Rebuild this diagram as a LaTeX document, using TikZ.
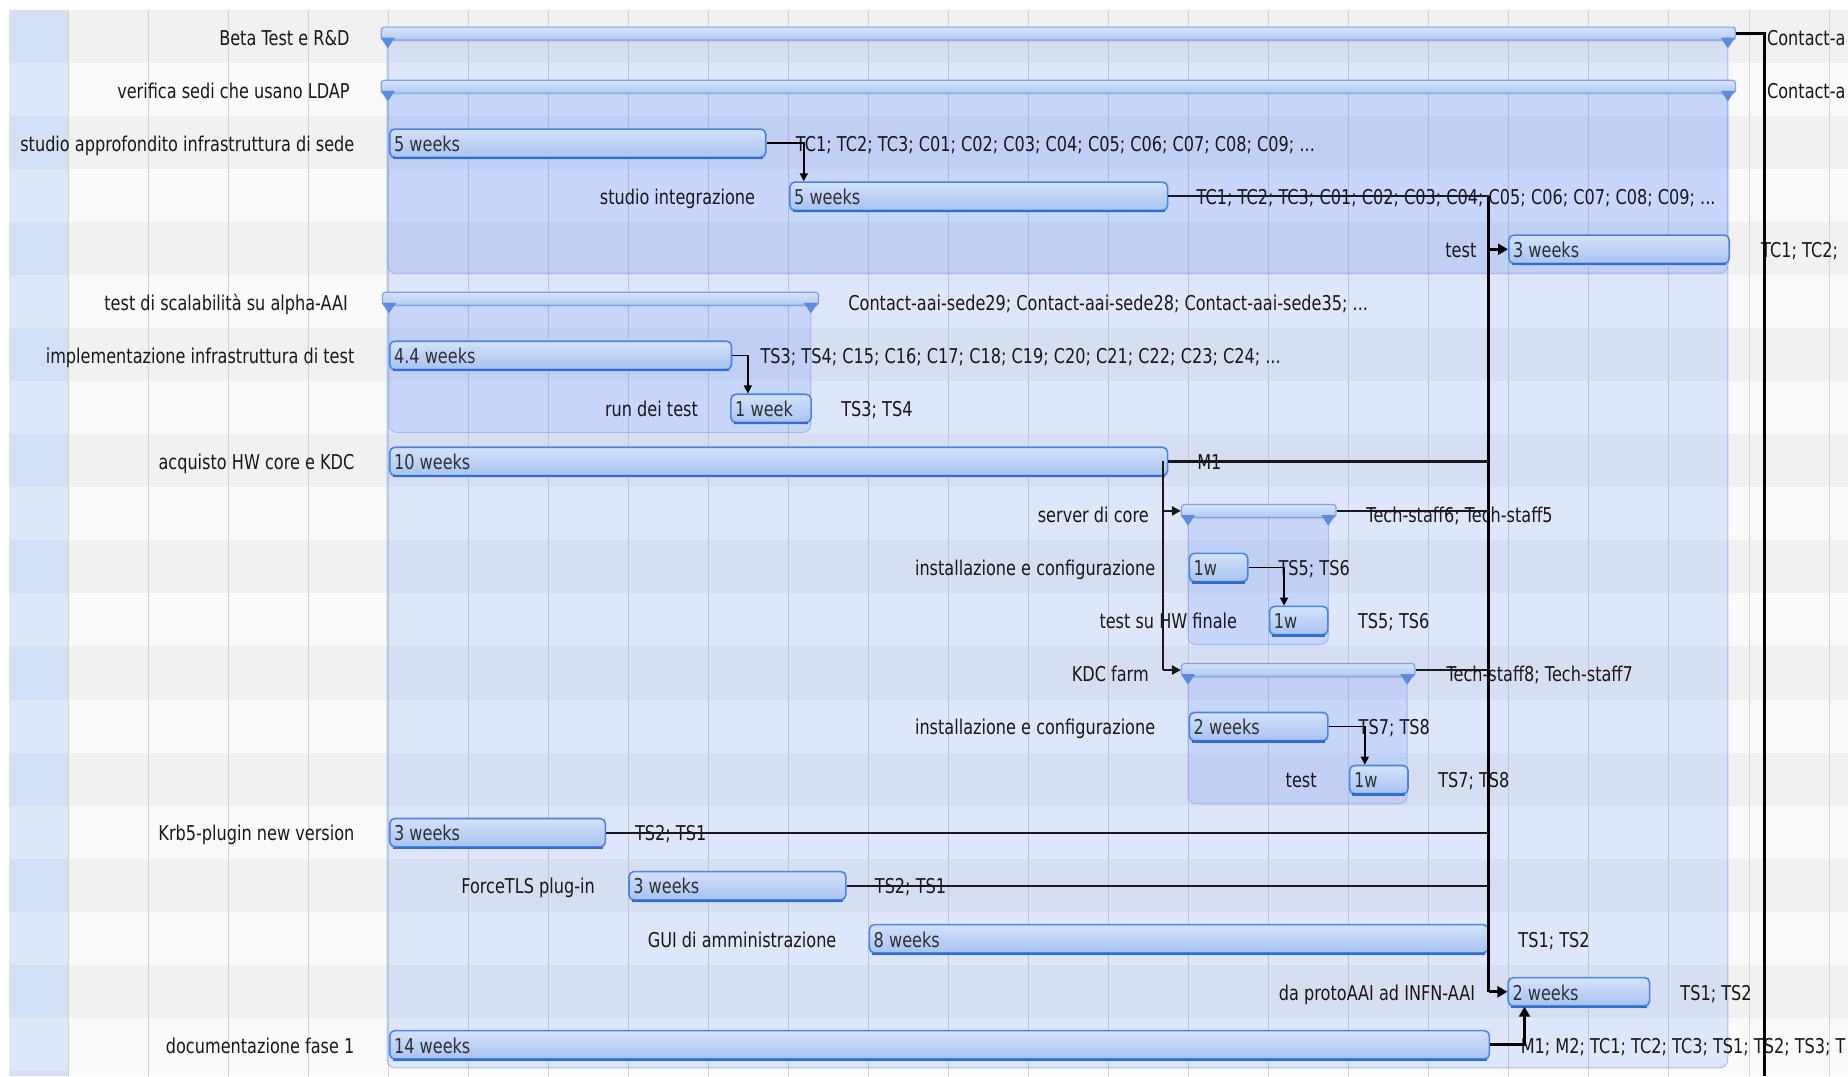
\documentclass[tikz,border=0pt]{standalone}
\usepackage{fontspec}
\setmainfont{DejaVu Sans}[FakeStretch=0.79]
\usetikzlibrary{arrows.meta,shadows,calc}
\definecolor{stripeA}{HTML}{F1F1F1}
\definecolor{stripeB}{HTML}{FAFAFA}
\definecolor{leftA}{HTML}{D3E0F5}
\definecolor{leftB}{HTML}{DDE8FA}
\definecolor{gridc}{HTML}{D2D2D2}
\definecolor{regfill}{RGB}{63,117,250}
\definecolor{regedge}{HTML}{7FA6EC}
\definecolor{bartop}{HTML}{D4E2FB}
\definecolor{barbot}{HTML}{A8C2F1}
\definecolor{baredge}{HTML}{4A86E0}
\definecolor{barlow}{HTML}{2F6DD6}
\definecolor{gtop}{HTML}{D6E3FA}
\definecolor{gbot}{HTML}{B2C9F3}
\definecolor{gedge}{HTML}{7DA3E6}
\definecolor{gtri}{HTML}{5A8DE2}
\definecolor{txt}{HTML}{181818}
\definecolor{wtxt}{HTML}{303030}
\newcommand\pxu{0.5893pt}
\newcommand\gfont{\fontsize{10.2}{12}\selectfont}

\tikzset{
  lbl/.style={anchor=base east, inner sep=0pt, text=txt, font=\gfont},
  rlbl/.style={anchor=base west, inner sep=0pt, text=txt, font=\gfont},
  wlbl/.style={anchor=base west, inner sep=0pt, text=wtxt, font=\gfont},
  taskbar/.style={rectangle, rounded corners=2.5pt, draw=baredge, line width=0.8pt,
    top color=bartop, bottom color=barbot, inner sep=0pt, minimum height=24*\pxu,
    drop shadow={shadow xshift=0pt, shadow yshift=-1.2pt, opacity=0.15}},
  barlowedge/.style={draw=barlow, line width=1.1pt},
  groupbar/.style={rectangle, rounded corners=1.5pt, draw=gedge, line width=0.6pt,
    top color=gtop, bottom color=gbot, inner sep=0pt, minimum height=11*\pxu,
    drop shadow={shadow xshift=0pt, shadow yshift=-1pt, opacity=0.12}},
  grouptri/.style={fill=gtri},
  region/.style={fill=regfill, fill opacity=0.15, draw=regedge, draw opacity=0.6,
    line width=0.5pt, rounded corners=4pt},
  subregion/.style={region, fill opacity=0.14},
  gridline/.style={draw=gridc, line width=0.5pt},
  thindep/.style={draw=black, line width=0.75pt, -{Triangle[length=4pt,width=4pt]}},
  meddep/.style={draw=black!90, line width=1.1pt},
  meddeparr/.style={meddep, -{Triangle[length=4.5pt,width=4.5pt]}},
  thinline/.style={draw=black!90, line width=0.9pt},
  trunk/.style={draw=black, line width=1.3pt},
  crit/.style={draw=black, line width=1.6pt},
  critarr/.style={crit, -{Triangle[length=5pt,width=5.5pt]}},
}

\newcommand\taskrow[5]{% name, x1, x2, row, text
  \node[taskbar, minimum width={(#3-#2)*\pxu}, anchor=west] (#1) at (#2,{31+45*#4+0.5}) {};
  \draw[barlowedge] ([xshift=1.8pt]#1.south west) -- ([xshift=-1.8pt]#1.south east);
  \node[wlbl] (#1w) at ({#2+4},{31+45*#4+7.5}) {#5};
}
\newcommand\grouprow[4]{% name, x1, x2, row
  \node[groupbar, minimum width={(#3-#2+12)*\pxu}, anchor=west] (#1) at ({#2-6},{31+45*#4-2.5}) {};
  \fill[grouptri] ({#2-6},{31+45*#4+1}) -- ({#2+6},{31+45*#4+1}) -- (#2,{31+45*#4+10}) -- cycle;
  \fill[grouptri] ({#3-6},{31+45*#4+1}) -- ({#3+6},{31+45*#4+1}) -- (#3,{31+45*#4+10}) -- cycle;
}
\newcommand\leftlabel[4]{% name, xend, row, text
  \node[lbl] (#1) at (#2,{31+45*#3+7.5}) {#4};
}
\newcommand\rightlabel[4]{% name, xstart, row, text
  \node[rlbl] (#1) at (#2,{31+45*#3+7.5}) {#4};
}

\begin{document}
\begin{tikzpicture}[x=0.5893pt, y=-0.5893pt]
\useasboundingbox (0,0) rectangle (1568,913);
\clip (0,0) rectangle (1568,913);
\fill[white] (0,0) rectangle (1568,913);

% stripes and left column
\foreach \k in {0,...,19}{
  \pgfmathtruncatemacro\odd{mod(\k,2)}
  \ifnum\odd=0
    \fill[stripeA] (58.5,{8.5+45*\k}) rectangle (1568,{53.5+45*\k});
    \fill[leftA] (7.5,{8.5+45*\k}) rectangle (57.5,{53.5+45*\k});
  \else
    \fill[stripeB] (58.5,{8.5+45*\k}) rectangle (1568,{53.5+45*\k});
    \fill[leftB] (7.5,{8.5+45*\k}) rectangle (57.5,{53.5+45*\k});
  \fi
}
\fill[stripeB] (58.5,908.5) rectangle (1568,913);
\fill[leftA] (7.5,908.5) rectangle (57.5,913);

% grid
\foreach \j in {0,...,22}{
  \draw[gridline] ({58.5+67.88*\j},8.5) -- ({58.5+67.88*\j},913);
}

% group regions
\draw[region] (328.5,31) rectangle (1466,906);
\draw[subregion] (329,76) rectangle (1466,232);
\draw[subregion] (330,256) rectangle (688,367);
\draw[subregion] (1008,436) rectangle (1127,547);
\draw[subregion] (1008,571) rectangle (1194,682);

% left labels
\leftlabel{L0}{297}{0}{Beta Test e R\&D}
\leftlabel{L1}{297}{1}{verifica sedi che usano LDAP}
\leftlabel{L2}{301}{2}{studio approfondito infrastruttura di sede}
\leftlabel{L3}{641}{3}{studio integrazione}
\leftlabel{L4}{1253}{4}{test}
\leftlabel{L5}{295.5}{5}{test di scalabilità su alpha-AAI}
\leftlabel{L6}{301}{6}{implementazione infrastruttura di test}
\leftlabel{L7}{592.5}{7}{run dei test}
\leftlabel{L8}{301}{8}{acquisto HW core e KDC}
\leftlabel{L9}{975}{9}{server di core}
\leftlabel{L10}{980.5}{10}{installazione e configurazione}
\leftlabel{L11}{1050}{11}{test su HW finale}
\leftlabel{L12}{975}{12}{KDC farm}
\leftlabel{L13}{980.5}{13}{installazione e configurazione}
\leftlabel{L14}{1117.5}{14}{test}
\leftlabel{L15}{301}{15}{Krb5-plugin new version}
\leftlabel{L16}{505}{16}{ForceTLS plug-in}
\leftlabel{L17}{710}{17}{GUI di amministrazione}
\leftlabel{L18}{1252}{18}{da protoAAI ad INFN-AAI}
\leftlabel{L19}{301}{19}{documentazione fase 1}

% right labels
\rightlabel{R0}{1499}{0}{Contact-a}
\rightlabel{R1}{1499}{1}{Contact-a}
\rightlabel{R2}{675}{2}{TC1; TC2; TC3; C01; C02; C03; C04; C05; C06; C07; C08; C09; ...}
\rightlabel{R3}{1015}{3}{TC1; TC2; TC3; C01; C02; C03; C04; C05; C06; C07; C08; C09; ...}
\rightlabel{R4}{1494}{4}{TC1; TC2;}
\rightlabel{R5}{719.5}{5}{Contact-aai-sede29; Contact-aai-sede28; Contact-aai-sede35; ...}
\rightlabel{R6}{645}{6}{TS3; TS4; C15; C16; C17; C18; C19; C20; C21; C22; C23; C24; ...}
\rightlabel{R7}{713.5}{7}{TS3; TS4}
\rightlabel{R8}{1015.5}{8}{M1}
\rightlabel{R9}{1159}{9}{Tech-staff6; Tech-staff5}
\rightlabel{R10}{1084.5}{10}{TS5; TS6}
\rightlabel{R11}{1152}{11}{TS5; TS6}
\rightlabel{R12}{1227}{12}{Tech-staff8; Tech-staff7}
\rightlabel{R13}{1152.5}{13}{TS7; TS8}
\rightlabel{R14}{1220}{14}{TS7; TS8}
\rightlabel{R15}{538.5}{15}{TS2; TS1}
\rightlabel{R16}{742}{16}{TS2; TS1}
\rightlabel{R17}{1288}{17}{TS1; TS2}
\rightlabel{R18}{1425.5}{18}{TS1; TS2}
\rightlabel{R19}{1290}{19}{M1; M2; TC1; TC2; TC3; TS1; TS2; TS3; T}

% group bars
\grouprow{g0}{329}{1466}{0}
\grouprow{g1}{329}{1466}{1}
\grouprow{g5}{330}{688}{5}
\grouprow{g9}{1008}{1127}{9}
\grouprow{g12}{1008}{1194}{12}

% task bars
\taskrow{t2}{330}{649}{2}{5 weeks}
\taskrow{t3}{669.5}{990}{3}{5 weeks}
\taskrow{t4}{1279.5}{1466.5}{4}{3 weeks}
\taskrow{t6}{330}{620}{6}{4.4 weeks}
\taskrow{t7}{619.5}{687.5}{7}{1 week}
\taskrow{t8}{330}{990}{8}{10 weeks}
\taskrow{t10}{1008.5}{1058}{10}{1w}
\taskrow{t11}{1076.5}{1126}{11}{1w}
\taskrow{t13}{1008.5}{1126}{13}{2 weeks}
\taskrow{t14}{1144.5}{1194}{14}{1w}
\taskrow{t15}{330}{513}{15}{3 weeks}
\taskrow{t16}{533}{717}{16}{3 weeks}
\taskrow{t17}{737}{1262}{17}{8 weeks}
\taskrow{t18}{1279}{1399}{18}{2 weeks}
\taskrow{t19}{330}{1263}{19}{14 weeks}

% connectors
\coordinate (vb) at (1497,913);
\draw[crit] (g0.east) -- (g0.east -| vb) -- (vb);

\coordinate (c23) at (682,0);
\draw[thindep] (t2.east) -| (c23 |- t3.north);

\coordinate (tk) at (1263,0);
\draw[meddep] (t3.east) -- (t3.east -| tk);
\draw[trunk] (t3.east -| tk) -- (t18.west -| tk);
\draw[critarr] (t4.west -| tk) -- (t4.west);
\draw[critarr] (t18.west -| tk) -- (t18.west);

\coordinate (c67) at (634.5,0);
\draw[thindep] (t6.east) -| (c67 |- t7.north);

\draw[meddep] (t8.east) -- (t8.east -| tk);
\coordinate (v8) at (987,0);
\draw[meddep] (v8 |- t8.east) -- (v8 |- g12.west);
\draw[meddeparr] (v8 |- g9.west) -- (g9.west);
\draw[meddeparr] (v8 |- g12.west) -- (g12.west);
\draw[thinline] (g9.east) -- (g9.east -| tk);
\draw[thinline] (g12.east) -- (g12.east -| tk);

\coordinate (c1011) at (1089.5,0);
\draw[thindep] (t10.east) -| (c1011 |- t11.north);
\coordinate (c1314) at (1158,0);
\draw[thindep] (t13.east) -| (c1314 |- t14.north);

\draw[meddep] (t15.east) -- (t15.east -| tk);
\draw[meddep] (t16.east) -- (t16.east -| tk);

\coordinate (c1918) at (1293.5,0);
\draw[critarr] (t19.east) -| (c1918 |- t18.south);
\end{tikzpicture}
\end{document}
